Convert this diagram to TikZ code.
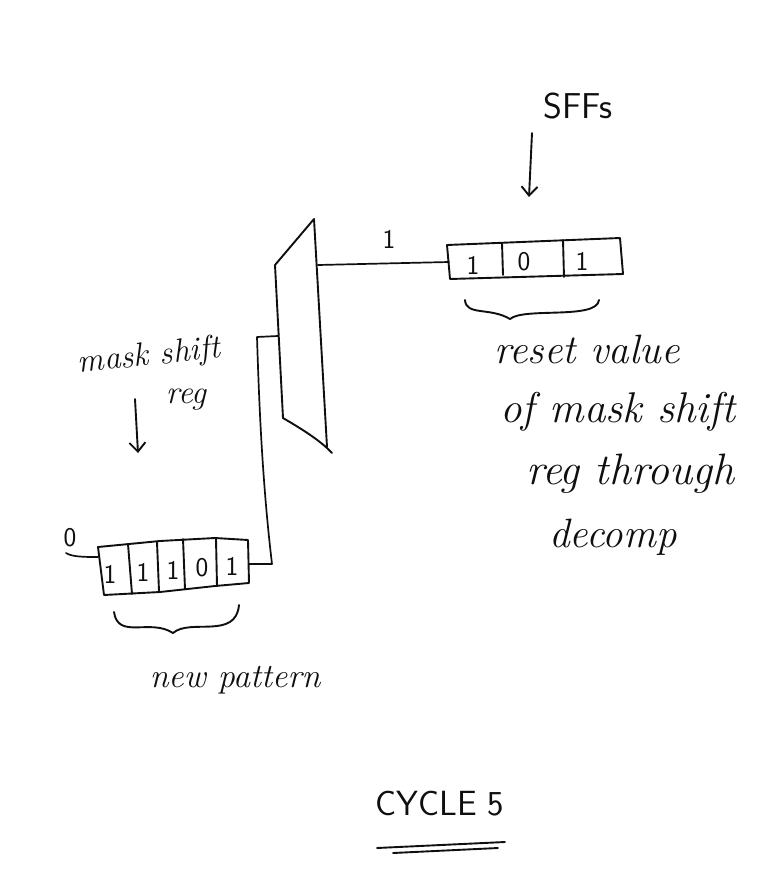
\documentclass[tikz,border=0pt]{standalone}
\usepackage{tikz}
\usepackage{xcolor}
\definecolor{tinta}{RGB}{15,15,15}
\tikzset{
  pen/.style={draw=tinta, line width=1.9pt, line cap=round, line join=round},
  wire/.style={pen, line width=1.7pt},
  pointer/.style={pen, -{Straight Barb[length=9pt,width=16pt]}},
  bit/.style={text=tinta, inner sep=0pt, font=\sffamily\fontsize{27}{27}\selectfont},
  script/.style={text=tinta, inner sep=0pt, align=center, font=\itshape\fontsize{41}{50}\selectfont}
}
\usetikzlibrary{arrows.meta}

\begin{document}
\begin{tikzpicture}[x=1pt, y=-1pt]
  \useasboundingbox (0,0) rectangle (782,886);

  \node[script, font=\sffamily\fontsize{36}{36}\selectfont] (sffs) at (578,106) {SFFs};
  \node[script, font=\itshape\fontsize{33}{33}\selectfont, rotate=6] (maskshift) at (149,357) {mask shift};
  \node[script, font=\itshape\fontsize{33}{33}\selectfont] (maskreg) at (186,400) {reg};
  \node[script] (resetline) at (587,349) {reset value};
  \node[script, font=\itshape\fontsize{43}{50}\selectfont] (ofline) at (618,412) {of mask shift};
  \node[script, font=\itshape\fontsize{44}{50}\selectfont] (regline) at (630,474) {reg through};
  \node[script] (decompline) at (613,537) {decomp};
  \node[script, font=\itshape\fontsize{34}{50}\selectfont] (newpattern) at (235,680) {new pattern};
  \node[script, font=\sffamily\fontsize{35}{35}\selectfont] (cycle) at (440,804) {CYCLE 5};

  \coordinate (muxa) at (275,265);
  \coordinate (muxb) at (314,219);
  \coordinate (muxc) at (327,447);
  \coordinate (muxd) at (283,418);
  \coordinate (muxin) at (278,336);
  \coordinate (muxout) at (318,265);
  \draw[pen] (muxa) -- (muxb) -- (muxc);
  \draw[pen] (muxa) -- (muxd) .. controls (300,428) and (320,440) .. (332,453);

  \draw[pen] (447,245) -- (620,238) -- (623,274) -- (450,279) -- cycle;
  \draw[pen] (502,243) -- (503,275);
  \draw[pen] (563,240) -- (564,277);
  \node[bit] (seta) at (473,265) {1};
  \node[bit] (setb) at (524,262) {0};
  \node[bit] (setc) at (582,261) {1};
  \coordinate (setin) at (449,262);
  \node[bit] (wirebit) at (389,239) {1};

  \draw[pen] (98,547) -- (160,541) -- (215,538) -- (248,540) -- (249,583) -- (215,586) -- (160,592) -- (104,595) -- cycle;
  \draw[pen] (128,544) -- (132,594);
  \draw[pen] (157,542) -- (159,591);
  \draw[pen] (183,539) -- (185,589);
  \draw[pen] (216,539) -- (217,586);
  \node[bit] (patta) at (110,574) {1};
  \node[bit] (pattb) at (143,572) {1};
  \node[bit] (pattc) at (173,570) {1};
  \node[bit] (pattd) at (202,568) {0};
  \node[bit] (patte) at (232,566) {1};
  \coordinate (pattout) at (249,564);
  \coordinate (pattin) at (98,557);
  \coordinate (wirebend) at (272,564);
  \coordinate (wiretop) at (257,337);
  \coordinate (zerotail) at (66,553);
  \node[bit] (zerobit) at (70,538) {0};

  \draw[wire] (muxout) -- (setin);
  \draw[wire] (pattout) -- (wirebend) .. controls (262,480) and (259,400) .. (wiretop) -- (muxin);
  \draw[wire] (zerotail) .. controls (72,557) and (85,557) .. (pattin);

  \coordinate (sffsarrow) at (532,133);
  \coordinate (sffstip) at (529,197);
  \coordinate (maskarrow) at (135,399);
  \coordinate (masktip) at (138,453);
  \draw[pointer] (sffsarrow) -- (sffstip);
  \draw[pointer] (maskarrow) -- (masktip);

  \draw[pen] (465,300) .. controls (466,316) and (490,307) .. (510,319) .. controls (524,307) and (597,320) .. (599,300);
  \draw[pen] (114,612) .. controls (118,640) and (150,618) .. (173,633) .. controls (190,618) and (236,640) .. (239,605);

  \draw[pen] (377,848) -- (505,842);
  \draw[pen] (393,853) -- (498,848);
\end{tikzpicture}
\end{document}
